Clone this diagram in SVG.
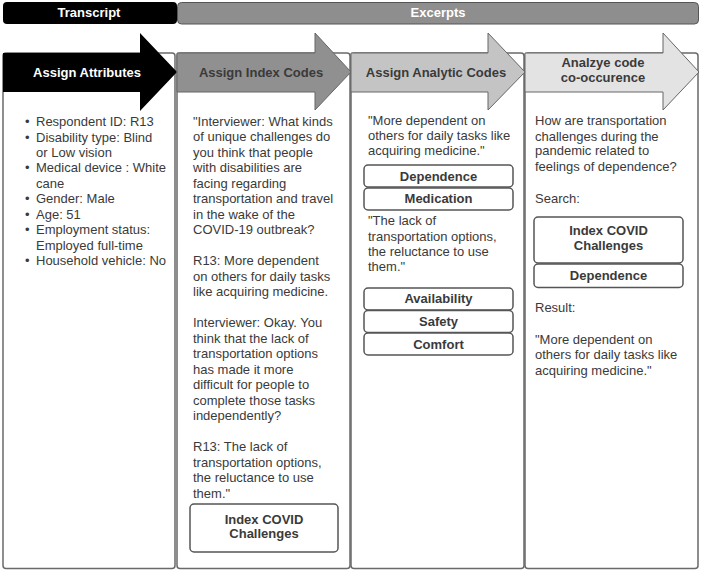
<svg xmlns="http://www.w3.org/2000/svg" width="702" height="573" viewBox="0 0 702 573">
<style>
text{font-family:"Liberation Sans",Arial,sans-serif;font-size:13px;fill:#3a3a3a}
.b{font-weight:bold}
.w{fill:#ffffff}
.c{text-anchor:middle}
.col{fill:#ffffff;stroke:#6a6a6a;stroke-width:1.5}
.code{fill:#ffffff;stroke:#555555;stroke-width:1.5}
.arr{stroke:#666666;stroke-width:1}
</style>
<rect width="702" height="573" fill="#ffffff"/>
<g id="transcript-header">
<rect x="3" y="2" width="174" height="22" rx="4" fill="#000000"/>
<text class="b w c" x="89" y="17">Transcript</text>
</g>
<g id="excerpts-header">
<rect x="177.5" y="2.5" width="521" height="21.5" rx="4" fill="#8e8e8e" stroke="#555555" stroke-width="1"/>
<text class="b w c" x="438" y="17">Excerpts</text>
</g>
<g id="column-boxes">
<rect class="col" x="3" y="53" width="172" height="515.5" rx="3"/>
<rect class="col" x="177" y="53" width="173" height="515.5" rx="3"/>
<rect class="col" x="351" y="53" width="173" height="515.5" rx="3"/>
<rect class="col" x="525" y="53" width="173" height="515.5" rx="3"/>
</g>
<g id="connectors">
<polygon id="arrow1" points="3,53 140,53 140,33 177,72 140,111 140,92 3,92" fill="#000000"/>
<polygon id="arrow2" class="arr" points="177,53 315,53 315,33 351,72 315,110 315,92 177,92" fill="#909090"/>
<polygon id="arrow3" class="arr" points="351,53 488,53 488,33 525,72 488,110 488,92 351,92" fill="#c4c4c4"/>
<polygon id="arrow4" class="arr" points="525,53 663,53 663,33 699,72 663,110 663,92 525,92" fill="#e3e3e3"/>
</g>
<g id="assign-attributes">
<text class="b w c" x="87" y="77">Assign Attributes</text>
<text x="25" y="126">•</text><text x="36" y="126">Respondent ID: R13</text>
<text x="25" y="141.5">•</text><text x="36" y="141.5">Disability type: Blind</text>
<text x="36" y="157">or Low vision</text>
<text x="25" y="172">•</text><text x="36" y="172">Medical device : White</text>
<text x="36" y="187.5">cane</text>
<text x="25" y="203">•</text><text x="36" y="203">Gender: Male</text>
<text x="25" y="218.5">•</text><text x="36" y="218.5">Age: 51</text>
<text x="25" y="234">•</text><text x="36" y="234">Employment status:</text>
<text x="36" y="249.5">Employed full-time</text>
<text x="25" y="265">•</text><text x="36" y="265">Household vehicle: No</text>
</g>
<g id="assign-index-codes">
<text class="b c" x="261" y="77">Assign Index Codes</text>
<text x="193" y="125.5">"Interviewer: What kinds</text>
<text x="193" y="141">of unique challenges do</text>
<text x="193" y="156.5">you think that people</text>
<text x="193" y="172">with disabilities are</text>
<text x="193" y="187.5">facing regarding</text>
<text x="193" y="203">transportation and travel</text>
<text x="193" y="218.5">in the wake of the</text>
<text x="193" y="234">COVID-19 outbreak?</text>
<text x="193" y="265">R13: More dependent</text>
<text x="193" y="280.5">on others for daily tasks</text>
<text x="193" y="296">like acquiring medicine.</text>
<text x="193" y="327">Interviewer: Okay. You</text>
<text x="193" y="342.5">think that the lack of</text>
<text x="193" y="358">transportation options</text>
<text x="193" y="373.5">has made it more</text>
<text x="193" y="389">difficult for people to</text>
<text x="193" y="404.5">complete those tasks</text>
<text x="193" y="420">independently?</text>
<text x="193" y="451">R13: The lack of</text>
<text x="193" y="466.5">transportation options,</text>
<text x="193" y="482">the reluctance to use</text>
<text x="193" y="497.5">them."</text>
<rect class="code" x="190" y="504" width="148" height="48" rx="4"/>
<text class="b c" x="264" y="523.5">Index COVID</text>
<text class="b c" x="264" y="538">Challenges</text>
</g>
<g id="assign-analytic-codes">
<text class="b c" x="436" y="77">Assign Analytic Codes</text>
<text x="368" y="124.5">"More dependent on</text>
<text x="368" y="139.5">others for daily tasks like</text>
<text x="368" y="154.5">acquiring medicine."</text>
<rect class="code" x="364" y="165" width="149" height="22" rx="4"/>
<text class="b c" x="438.5" y="180.5">Dependence</text>
<rect class="code" x="364" y="188" width="149" height="22" rx="4"/>
<text class="b c" x="438.5" y="203">Medication</text>
<text x="368" y="225.2">"The lack of</text>
<text x="368" y="240.5">transportation options,</text>
<text x="368" y="256.2">the reluctance to use</text>
<text x="368" y="271.2">them."</text>
<rect class="code" x="364" y="288" width="149" height="22" rx="4"/>
<text class="b c" x="438.5" y="303">Availability</text>
<rect class="code" x="364" y="310.5" width="149" height="22" rx="4"/>
<text class="b c" x="438.5" y="326.2">Safety</text>
<rect class="code" x="364" y="333" width="149" height="22" rx="4"/>
<text class="b c" x="438.5" y="348.5">Comfort</text>
</g>
<g id="analyze-co-occurrence">
<text class="b c" x="603" y="67">Analzye code</text>
<text class="b c" x="603" y="81.5">co-occurence</text>
<text x="535" y="124.5">How are transportation</text>
<text x="535" y="140.5">challenges during the</text>
<text x="535" y="155.2">pandemic related to</text>
<text x="535" y="171.2">feelings of dependence?</text>
<text x="535" y="202.8">Search:</text>
<rect class="code" x="534" y="217" width="149" height="46" rx="4"/>
<text class="b c" x="608.5" y="234.5">Index COVID</text>
<text class="b c" x="608.5" y="249.5">Challenges</text>
<rect class="code" x="534" y="264" width="149" height="23.5" rx="4"/>
<text class="b c" x="608.5" y="280">Dependence</text>
<text x="535" y="312.2">Result:</text>
<text x="535" y="343.8">"More dependent on</text>
<text x="535" y="358.8">others for daily tasks like</text>
<text x="535" y="374.5">acquiring medicine."</text>
</g>
</svg>
